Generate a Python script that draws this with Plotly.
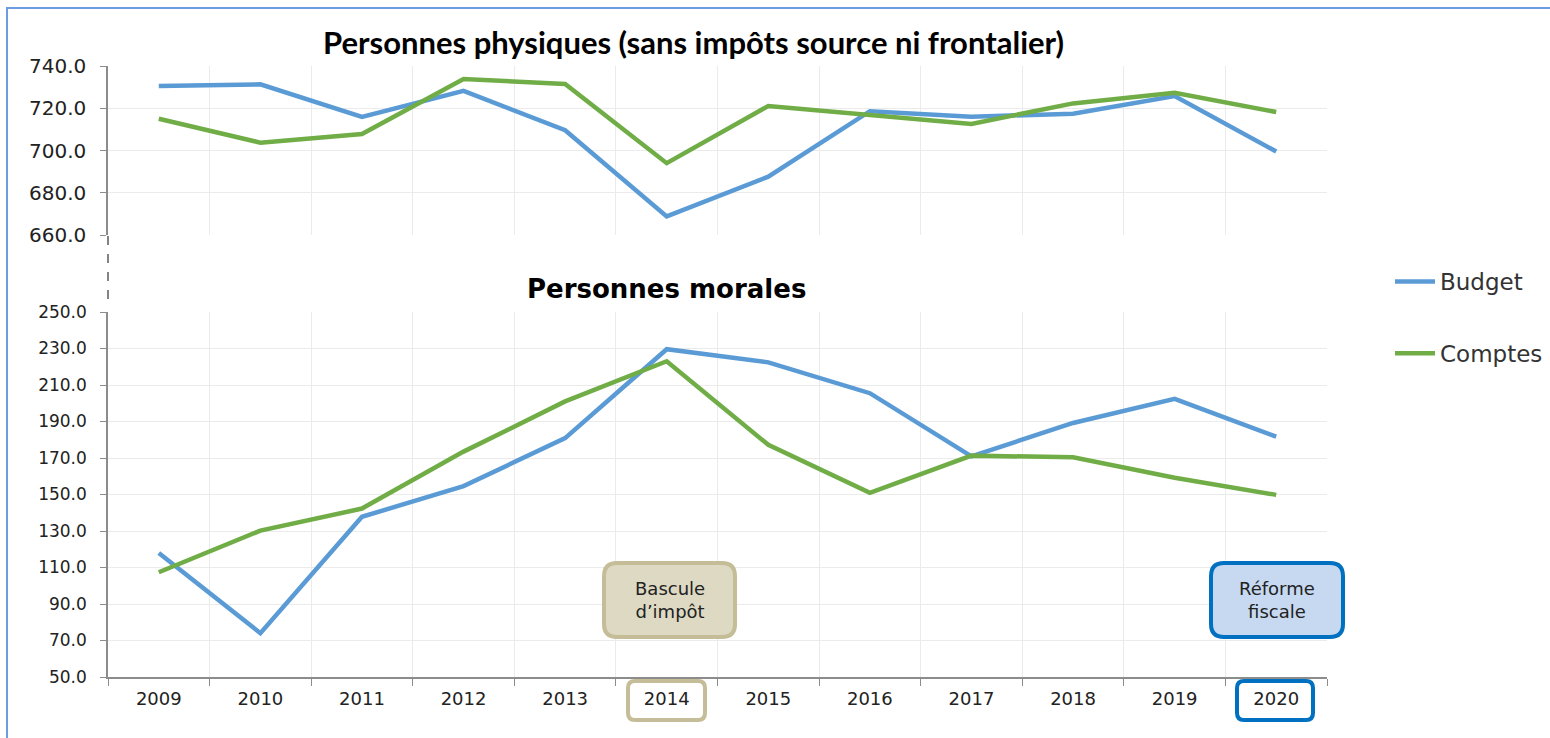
import plotly.graph_objects as go

years = ["2009", "2010", "2011", "2012", "2013", "2014",
         "2015", "2016", "2017", "2018", "2019", "2020"]

# Personnes physiques (sans impôts source ni frontalier)
pp_budget = [730.5, 731.3, 715.9, 728.2, 709.6, 668.8, 687.6, 718.6, 716.0, 717.4, 725.8, 699.5]
pp_comptes = [715.0, 703.7, 707.8, 733.8, 731.5, 694.0, 721.1, 716.8, 712.6, 722.3, 727.3, 718.2]

# Personnes morales
pm_budget = [118.0, 74.0, 137.8, 154.6, 180.9, 229.6, 222.4, 205.5, 170.9, 189.2, 202.4, 181.7]
pm_comptes = [107.4, 130.2, 142.3, 173.5, 201.0, 223.0, 177.2, 150.9, 171.3, 170.4, 159.2, 149.8]

series_names = ["Budget", "Comptes"]
series_colors = ["#5b9bd5", "#70ad47"]

W, H = 1550, 738
L, R, T, B = 108, 1327, 66, 677


def px(x):
    return (x - L) / (R - L)


def py(y):
    return (B - y) / (B - T)


def rrect(x0, y0, x1, y1, r):
    # rounded rectangle path in paper coords from pixel coords
    pts = []
    pts.append(f"M {px(x0 + r)},{py(y0)}")
    pts.append(f"L {px(x1 - r)},{py(y0)}")
    pts.append(f"Q {px(x1)},{py(y0)} {px(x1)},{py(y0 + r)}")
    pts.append(f"L {px(x1)},{py(y1 - r)}")
    pts.append(f"Q {px(x1)},{py(y1)} {px(x1 - r)},{py(y1)}")
    pts.append(f"L {px(x0 + r)},{py(y1)}")
    pts.append(f"Q {px(x0)},{py(y1)} {px(x0)},{py(y1 - r)}")
    pts.append(f"L {px(x0)},{py(y0 + r)}")
    pts.append(f"Q {px(x0)},{py(y0)} {px(x0 + r)},{py(y0)}")
    pts.append("Z")
    return " ".join(pts)


fig = go.Figure()

for name, color, vals in zip(series_names, series_colors, [pp_budget, pp_comptes]):
    fig.add_trace(go.Scatter(x=years, y=vals, mode="lines", name=name,
                             line=dict(color=color, width=4.5),
                             xaxis="x2", yaxis="y2", showlegend=False,
                             legendgroup=name))

for name, color, vals in zip(series_names, series_colors, [pm_budget, pm_comptes]):
    fig.add_trace(go.Scatter(x=years, y=vals, mode="lines", name=name,
                             line=dict(color=color, width=4.5),
                             xaxis="x", yaxis="y", showlegend=True,
                             legendgroup=name))

grid = "#ebebeb"
axc = "#8c8c8c"

fig.update_layout(
    width=W, height=H, autosize=False,
    margin=dict(l=L, r=W - R, t=T, b=H - B, pad=0, autoexpand=False),
    paper_bgcolor="white", plot_bgcolor="white",
    font=dict(family="DejaVu Sans", color="#222222"),
    xaxis=dict(domain=[0, 1], anchor="y", type="category", range=[-0.5, 11.5],
               tickson="boundaries", ticks="outside", ticklen=7, tickcolor=axc,
               showline=True, linecolor=axc, linewidth=1.5,
               showgrid=True, gridcolor=grid, gridwidth=1,
               tickfont=dict(family="DejaVu Sans", size=18, color="#222222"),
               ticklabelstandoff=5, fixedrange=True),
    xaxis2=dict(domain=[0, 1], anchor="y2", type="category", range=[-0.5, 11.5],
                matches="x", tickson="boundaries", ticks="", showticklabels=False,
                showline=False, showgrid=True, gridcolor=grid, gridwidth=1),
    yaxis=dict(domain=[0, py(312)], anchor="x", range=[50, 250], tick0=50, dtick=20,
               tickformat=".1f", ticks="outside", ticklen=6, tickcolor=axc,
               showline=True, linecolor=axc, linewidth=1.5,
               showgrid=True, gridcolor=grid, zeroline=False,
               tickfont=dict(family="DejaVu Sans", size=17, color="#222222"),
               ticklabelstandoff=10),
    yaxis2=dict(domain=[py(235), 1], anchor="x2", range=[660, 740], tick0=660, dtick=20,
                tickformat=".1f", ticks="outside", ticklen=6, tickcolor=axc,
                showline=True, linecolor=axc, linewidth=1.5,
                showgrid=True, gridcolor=grid, zeroline=False,
                tickfont=dict(family="DejaVu Sans", size=20, color="#222222"),
                ticklabelstandoff=10),
    legend=dict(x=px(1390), y=py(260), xanchor="left", yanchor="top",
                font=dict(family="DejaVu Sans", size=23, color="#333333"),
                tracegroupgap=39, traceorder="grouped", bgcolor="rgba(0,0,0,0)",
                itemwidth=40),
    showlegend=True,
)

shapes = []
# outer frame (top and left visible)
shapes.append(dict(type="rect", xref="paper", yref="paper",
                   x0=px(7), x1=px(1560), y0=py(8), y1=py(760),
                   line=dict(color="#6b9de0", width=2), fillcolor="rgba(0,0,0,0)",
                   layer="below"))
# axis break dashed line
shapes.append(dict(type="line", xref="paper", yref="paper",
                   x0=0, x1=0, y0=py(236), y1=py(300),
                   line=dict(color="#333333", width=1.2, dash="dash")))
# Bascule d'impôt box
shapes.append(dict(type="path", xref="paper", yref="paper",
                   path=rrect(604, 563, 735, 637, 13),
                   fillcolor="#ddd9c3", line=dict(color="#c4bd97", width=4)))
# Réforme fiscale box
shapes.append(dict(type="path", xref="paper", yref="paper",
                   path=rrect(1211, 563, 1343, 637, 13),
                   fillcolor="#c6d9f1", line=dict(color="#0070c0", width=4)))
# 2014 tick label box
shapes.append(dict(type="path", xref="paper", yref="paper",
                   path=rrect(628, 681, 705, 720, 7),
                   fillcolor="rgba(0,0,0,0)", line=dict(color="#c4bd97", width=4)))
# 2020 tick label box
shapes.append(dict(type="path", xref="paper", yref="paper",
                   path=rrect(1237, 681, 1313, 720, 7),
                   fillcolor="rgba(0,0,0,0)", line=dict(color="#0070c0", width=4)))

annotations = [
    dict(text="<b>Personnes physiques (sans impôts source ni frontalier)</b>",
         x=px(693), y=py(42), xref="paper", yref="paper", showarrow=False,
         xanchor="center", yanchor="middle",
         font=dict(family="Lato", size=31, color="#000000")),
    dict(text="<b>Personnes morales</b>",
         x=px(666), y=py(289), xref="paper", yref="paper", showarrow=False,
         xanchor="center", yanchor="middle",
         font=dict(family="DejaVu Sans", size=26, color="#000000")),
    dict(text="Bascule<br>d’impôt",
         x=px(669.5), y=py(600), xref="paper", yref="paper", showarrow=False,
         xanchor="center", yanchor="middle",
         font=dict(family="DejaVu Sans", size=18, color="#222222")),
    dict(text="Réforme<br>fiscale",
         x=px(1277), y=py(600), xref="paper", yref="paper", showarrow=False,
         xanchor="center", yanchor="middle",
         font=dict(family="DejaVu Sans", size=18, color="#222222")),
]

fig.update_layout(shapes=shapes, annotations=annotations)

fig.write_html("out.html", config={"displayModeBar": False},
               post_script="document.body.style.margin='0';")
